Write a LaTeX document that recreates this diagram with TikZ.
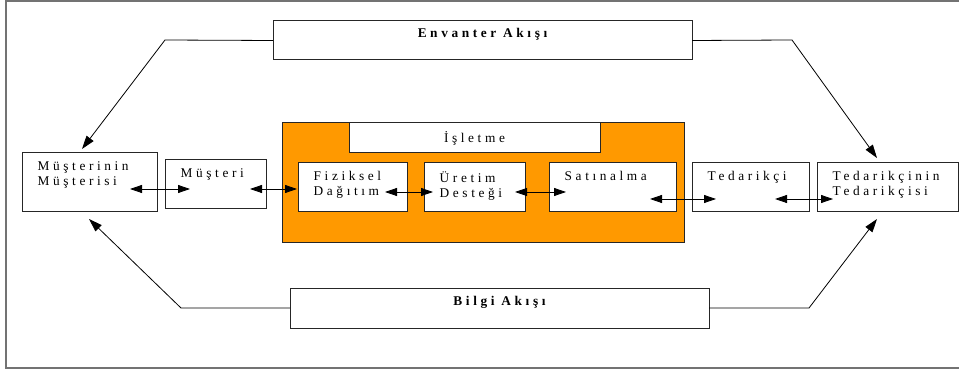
\documentclass[tikz,border=0pt]{standalone}
\usepackage{fontspec}
\setmainfont{Liberation Serif}[LetterSpace=27]
\usepackage{xcolor}
\usepackage{tikz}
\usetikzlibrary{positioning,arrows.meta}

\definecolor{islorange}{HTML}{FF9900}

\tikzset{
    box/.style 2 args={draw=black!85, line width=0.75pt, fill=white, inner sep=0pt, outer sep=0pt,
        anchor=north west, minimum width=#1*0.75pt, minimum height=#2*0.75pt},
    lbl/.style={anchor=north west, inner sep=0pt, align=left, xshift=11.6pt, yshift=-6pt},
    ttl/.style={anchor=north, inner sep=0pt, font=\fontsize{10}{11.25}\selectfont\bfseries},
    flow/.style={black, line width=0.6pt, -{Triangle[length=10pt, width=6.5pt]}},
    link/.style={black, line width=0.6pt, {Triangle[length=9pt, width=6pt]}-{Triangle[length=9pt, width=6pt]}}
}

\begin{document}
\begin{tikzpicture}[x=0.75pt, y=-0.75pt, font=\fontsize{10}{11.25}\selectfont]
    \useasboundingbox (0,0) rectangle (959,370);
    \draw [black!55, line width=1.5pt] (6,1) rectangle (970,368);

    % the firm
    \node [box={402}{119}, fill=islorange] (isl) at (282,123) {};
    \node [box={251}{30}] (islhead) at (349,123) {};
    \node at (islhead.center) {İşletme};

    \node [box={109}{49}, label={[lbl]north west:Fiziksel\\Dağıtım}] (fiz) at (298,163) {};
    \node [box={101}{49}, label={[lbl]north west:Üretim\\Desteği}] (uret) at (424,163) {};
    \node [box={127}{49}, label={[lbl]north west:Satınalma}] (satin) at (549,163) {};

    % chain partners
    \node [box={135}{59}, label={[lbl]north west:Müşterinin\\Müşterisi}] (musmus) at (22,153) {};
    \node [box={101}{49}, label={[lbl]north west:Müşteri}] (mus) at (165,160) {};
    \node [box={117}{49}, label={[lbl]north west:Tedarikçi}] (ted) at (692,163) {};
    \node [box={141}{49}, label={[lbl]north west:Tedarikçinin\\Tedarikçisi}] (tedted) at (817,163) {};

    % flows
    \node [box={419}{39}, label={[ttl, yshift=-5pt]north:Envanter Akışı}] (env) at (273,21) {};
    \node [box={419}{40}, label={[ttl, yshift=-6pt]north:Bilgi Akışı}] (bilgi) at (290,288) {};

    \coordinate (envL) at (165,40);
    \coordinate (envLE) at (82,149);
    \coordinate (envR) at (792,40);
    \coordinate (envRE) at (877,158);
    \coordinate (bilL) at (181,308);
    \coordinate (bilLE) at (89,219);
    \coordinate (bilR) at (809,308);
    \coordinate (bilRE) at (877,219);

    \draw [flow] (env.west) -- (envL) -- (envLE);
    \draw [flow] (env.east) -- (envR) -- (envRE);
    \draw [flow] (bilgi.west) -- (bilL) -- (bilLE);
    \draw [flow] (bilgi.east) -- (bilR) -- (bilRE);

    % links between partners
    \coordinate (A1) at (130,189);
    \coordinate (A2) at (190,189);
    \coordinate (B1) at (250,189);
    \coordinate (B2) at (297,189);
    \coordinate (C1) at (385,192);
    \coordinate (C2) at (433,192);
    \coordinate (D1) at (515,192);
    \coordinate (D2) at (566,192);
    \coordinate (E1) at (650,199);
    \coordinate (E2) at (716,199);
    \coordinate (F1) at (775,199);
    \coordinate (F2) at (833,199);

    \draw [link] (A1) -- (A2);
    \draw [link] (B1) -- (B2);
    \draw [link] (C1) -- (C2);
    \draw [link] (D1) -- (D2);
    \draw [link] (E1) -- (E2);
    \draw [link] (F1) -- (F2);
\end{tikzpicture}
\end{document}
